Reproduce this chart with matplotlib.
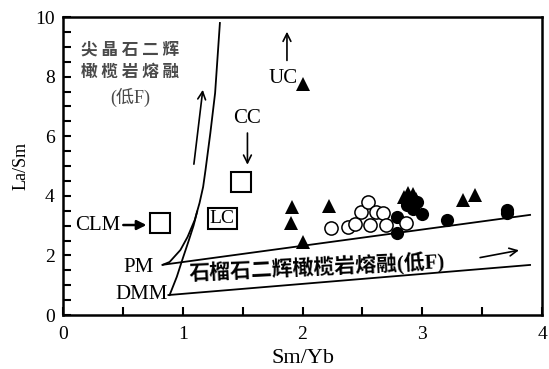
import matplotlib
matplotlib.use('Agg')
import matplotlib.pyplot as plt
import numpy as np

plt.rcParams['font.family'] = ['Liberation Serif', 'Noto Sans CJK SC']

# samples: Sm/Yb vs La/Sm
tri_x = [1.91, 1.90, 2.22, 2.00, 2.85, 2.88, 2.92, 2.95, 3.34, 3.44]
tri_y = [3.62, 3.09, 3.66, 2.45, 3.95, 4.10, 4.05, 3.90, 3.86, 4.03]
uc_x, uc_y = 2.00, 7.75

dot_x = [2.79, 2.79, 2.87, 2.96, 3.00, 2.92, 3.21, 3.71, 3.71]
dot_y = [3.29, 2.74, 3.68, 3.80, 3.40, 3.55, 3.19, 3.52, 3.42]

ring_x = [2.24, 2.38, 2.44, 2.49, 2.55, 2.56, 2.61, 2.67, 2.70, 2.86]
ring_y = [2.93, 2.96, 3.05, 3.46, 3.80, 3.02, 3.46, 3.42, 3.02, 3.09]

# reservoirs
clm_xy = (0.81, 3.09)
cc_xy = (1.49, 4.46)
lc_xy = (1.33, 3.25)

# melting curves
pm_curve_x = [0.83, 0.89, 0.98, 1.04, 1.10, 1.14, 1.17, 1.19, 1.23, 1.27, 1.31]
pm_curve_y = [1.68, 1.78, 2.18, 2.62, 3.19, 3.76, 4.30, 4.87, 6.10, 7.45, 9.80]
dmm_curve_x = [0.89, 0.95, 1.00, 1.05, 1.09, 1.12]
dmm_curve_y = [0.67, 1.28, 1.90, 2.50, 3.00, 3.47]
grt_upper_x = [0.84, 3.90]
grt_upper_y = [1.69, 3.36]
grt_lower_x = [0.88, 3.90]
grt_lower_y = [0.67, 1.68]

fig = plt.figure(figsize=(5.49, 3.69), dpi=100)
ax = fig.add_axes([0.1148, 0.1463, 0.8725, 0.8076])

lw = 1.3
ax.plot(pm_curve_x, pm_curve_y, color='k', lw=lw)
ax.plot(dmm_curve_x, dmm_curve_y, color='k', lw=lw)
ax.plot(grt_upper_x, grt_upper_y, color='k', lw=lw)
ax.plot(grt_lower_x, grt_lower_y, color='k', lw=lw)

ax.plot(tri_x, tri_y, '^', color='k', ms=10, mew=0)
ax.plot([uc_x], [uc_y], '^', color='k', ms=10, mew=0)
ax.plot(dot_x, dot_y, 'o', color='k', ms=9.5, mew=0)
ax.plot(ring_x, ring_y, 'o', mfc='white', mec='k', ms=9.5, mew=1.1)
ax.plot(*clm_xy, 's', mfc='white', mec='k', ms=14, mew=1.5)
ax.plot(*cc_xy, 's', mfc='white', mec='k', ms=14, mew=1.5)

# arrows
arr = dict(arrowstyle='->', color='k', lw=1.2, mutation_scale=14)
ax.annotate('', xy=(1.17, 7.65), xytext=(1.09, 4.97), arrowprops=arr)
ax.annotate('', xy=(1.87, 9.6), xytext=(1.87, 8.45), arrowprops=arr)
ax.annotate('', xy=(1.54, 4.95), xytext=(1.54, 6.2), arrowprops=arr)
ax.annotate('', xy=(0.72, 3.02), xytext=(0.48, 3.02),
            arrowprops=dict(arrowstyle='-|>', color='k', lw=1.8, mutation_scale=14))
ax.annotate('', xy=(3.83, 2.19), xytext=(3.46, 1.91), arrowprops=arr)

# labels
tk = dict(fontsize=15, color='k', ha='center', va='center')
ax.text(1.84, 7.95, 'UC', **tk)
ax.text(1.54, 6.6, 'CC', **tk)
ax.text(0.29, 3.02, 'CLM', **tk)
ax.text(0.63, 1.58, 'PM', **tk)
ax.text(0.66, 0.70, 'DMM', **tk)
ax.text(lc_xy[0], lc_xy[1], 'LC', fontsize=14, ha='center', va='center',
        bbox=dict(boxstyle='square,pad=0.1', fc='white', ec='k', lw=1.5))

cjk = ['Noto Sans CJK SC']
grey = '#4a4a4a'
ax.text(0.56, 8.9, '尖 晶 石 二 辉', family=cjk, fontsize=12, fontweight='bold',
        color=grey, ha='center', va='center')
ax.text(0.56, 8.15, '橄 榄 岩 熔 融', family=cjk, fontsize=12, fontweight='bold',
        color=grey, ha='center', va='center')
ax.text(0.56, 7.3, '(低F)', family=['Liberation Serif', 'Noto Sans CJK SC'],
        fontsize=13, color=grey, ha='center', va='center')
ax.text(2.12, 1.56, '石榴石二辉橄榄岩熔融(低F)',
        family=['Liberation Serif', 'Noto Sans CJK SC'], fontsize=15,
        fontweight='bold', rotation=2.7, ha='center', va='center')

ax.set_xlim(0, 4)
ax.set_ylim(0, 10)
ax.set_xticks([0, 1, 2, 3, 4])
ax.set_xticks(np.arange(0, 4.01, 0.5), minor=True)
ax.set_yticks([0, 2, 4, 6, 8, 10])
ax.set_yticks(np.arange(0, 10.01, 0.5), minor=True)
ax.tick_params(which='both', direction='in', length=6, width=1.5,
               top=False, right=False, labelsize=14)
ax.tick_params(axis='x', pad=8)
ax.tick_params(axis='y', pad=6)
for s in ax.spines.values():
    s.set_linewidth(1.8)

ax.set_xlabel('Sm/Yb', fontsize=16, labelpad=4)
ax.set_ylabel('La/Sm', fontsize=13, labelpad=4)

fig.savefig('out.png', dpi=100)
